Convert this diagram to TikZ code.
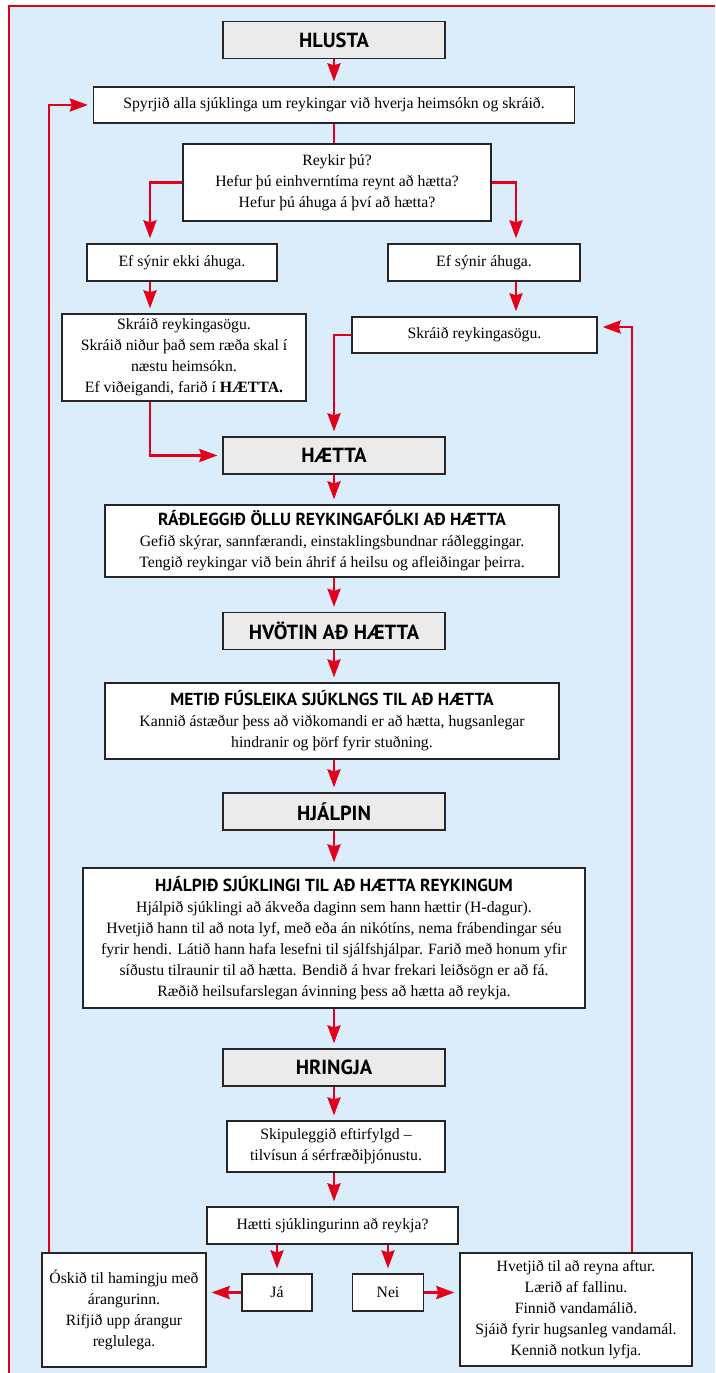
\documentclass[tikz,border=0pt]{standalone}
\usepackage{fontspec}
\setmainfont{Liberation Serif}
\newfontfamily\headsans{PT Sans}
\usepackage{xcolor}
\definecolor{flowred}{RGB}{226,0,26}
\definecolor{paneblue}{RGB}{219,237,251}
\definecolor{headgray}{RGB}{235,235,235}
\newcommand{\boxtitle}[1]{{\headsans\bfseries\fontsize{17.5}{22}\selectfont #1}}
\usepackage{tikz}
\usetikzlibrary{positioning,arrows.meta,calc}

\begin{document}
\begin{tikzpicture}[x=1bp,y=-1bp,
      stage/.style={rectangle,draw=black!85,line width=1.3bp,fill=headgray,
        minimum width=222bp,minimum height=37bp,inner sep=0pt,
        font=\headsans\bfseries\fontsize{20.5}{24}\selectfont},
      box/.style={rectangle,draw=black!85,line width=1.3bp,fill=white,align=center,
        inner sep=0pt,font=\fontsize{15.8}{21}\selectfont},
      flow/.style={-{Stealth[length=18bp,width=13bp,inset=2bp]},line width=2.5bp,
        flowred,shorten >=5bp},
      link/.style={line width=2.5bp,flowred}]
    \useasboundingbox (0,0) rectangle (715,1373);
    % panel with the red frame (runs off the page right and below)
    \fill[white] (0,0) rectangle (715,1373);
    \fill[paneblue] (9,6) rectangle (715,1373);
    \draw[link,line width=2.6bp] (715,6) -- (9,6) -- (9,1373);
    % columns used by the side connectors
    \coordinate (loopL) at (49,0);
    \coordinate (colL) at (150,0);
    \coordinate (colR) at (516,0);
    \coordinate (loopR) at (632,0);
    % first stage
    \node[stage] (hlusta) at (334,40) {HLUSTA};
    \node[box,minimum width=481bp,minimum height=36bp] (spyr) at (334,105)
      {Spyrjið alla sjúklinga um reykingar við hverja heimsókn og skráið.};
    \node[box,minimum width=308bp,minimum height=77bp] (reyk) at (337,182.5)
      {Reykir þú?\\Hefur þú einhverntíma reynt að hætta?\\Hefur þú áhuga á því að hætta?};
    \node[box,minimum width=190bp,minimum height=37bp] (ekki) at (182,262.5)
      {Ef sýnir ekki áhuga.};
    \node[box,minimum width=192bp,minimum height=37bp] (ahuga) at (484,262.5)
      {Ef sýnir áhuga.};
    \node[box,minimum width=244bp,minimum height=87bp] (skrL) at (184,357.5)
      {Skráið reykingasögu.\\Skráið niður það sem ræða skal í\\næstu heimsókn.\\
       Ef viðeigandi, farið í \textbf{HÆTTA.}};
    \node[box,minimum width=245bp,minimum height=36bp] (skrR) at (474.5,335)
      {Skráið reykingasögu.};
    % second to fourth stage
    \node[stage] (haetta) at (334,455.5) {HÆTTA};
    \node[box,minimum width=454bp,minimum height=72bp] (radl) at (332,541)
      {\boxtitle{RÁÐLEGGIÐ ÖLLU REYKINGAFÓLKI AÐ HÆTTA}\\
       Gefið skýrar, sannfærandi, einstaklingsbundnar ráðleggingar.\\
       Tengið reykingar við bein áhrif á heilsu og afleiðingar þeirra.};
    \node[stage] (hvotin) at (334,631) {HVÖTIN AÐ HÆTTA};
    \node[box,minimum width=454bp,minimum height=76bp] (metid) at (332,721)
      {\boxtitle{METIÐ FÚSLEIKA SJÚKLNGS TIL AÐ HÆTTA}\\
       Kannið ástæður þess að viðkomandi er að hætta, hugsanlegar\\
       hindranir og þörf fyrir stuðning.};
    \node[stage] (hjalpin) at (334,811.5) {HJÁLPIN};
    \node[box,minimum width=502bp,minimum height=140bp] (hjalpid) at (334,938)
      {\boxtitle{HJÁLPIÐ SJÚKLINGI TIL AÐ HÆTTA REYKINGUM}\\
       Hjálpið sjúklingi að ákveða daginn sem hann hættir (H-dagur).\\
       Hvetjið hann til að nota lyf, með eða án nikótíns, nema frábendingar séu\\
       fyrir hendi. Látið hann hafa lesefni til sjálfshjálpar. Farið með honum yfir\\
       síðustu tilraunir til að hætta. Bendið á hvar frekari leiðsögn er að fá.\\
       Ræðið heilsufarslegan ávinning þess að hætta að reykja.};
    % last stage
    \node[stage] (hringja) at (334,1067.5) {HRINGJA};
    \node[box,minimum width=218bp,minimum height=51bp] (skip) at (336,1146.5)
      {Skipuleggið eftirfylgd –\\tilvísun á sérfræðiþjónustu.};
    \node[box,minimum width=251bp,minimum height=37bp] (haetti) at (332.5,1225.5)
      {Hætti sjúklingurinn að reykja?};
    \node[box,minimum width=70bp,minimum height=37bp] (ja) at (277,1292.5) {Já};
    \node[box,minimum width=71bp,minimum height=37bp] (nei) at (388,1292.5) {Nei};
    \node[box,minimum width=164bp,minimum height=114bp] (oskid) at (124,1310)
      {Óskið til hamingju með\\árangurinn.\\Rifjið upp árangur\\reglulega.};
    \node[box,minimum width=232bp,minimum height=113bp] (hvetjid) at (576,1309.5)
      {Hvetjið til að reyna aftur.\\Lærið af fallinu.\\Finnið vandamálið.\\
       Sjáið fyrir hugsanleg vandamál.\\Kennið notkun lyfja.};
    % connectors
    \draw[flow] (hlusta) -- (hlusta |- spyr.north);
    \draw[link] (spyr.south -| hlusta) -- (reyk.north -| hlusta);
    \draw[flow] (reyk.west) -| (ekki.north -| colL);
    \draw[flow] (reyk.east) -| (ahuga.north -| colR);
    \draw[flow] (ekki.south -| colL) -- (skrL.north -| colL);
    \draw[flow] (ahuga.south -| colR) -- (skrR.north -| colR);
    \draw[flow] (skrL.south -| colL) |- (haetta.west);
    \draw[flow] (skrR.west) -| (haetta.north);
    \draw[flow] (haetta) -- (radl.north -| haetta);
    \draw[flow] (radl.south -| haetta) -- (hvotin);
    \draw[flow] (hvotin) -- (metid.north -| hvotin);
    \draw[flow] (metid.south -| hvotin) -- (hjalpin);
    \draw[flow] (hjalpin) -- (hjalpid.north -| hjalpin);
    \draw[flow] (hjalpid.south -| hjalpin) -- (hringja);
    \draw[flow] (hringja) -- (skip.north -| hringja);
    \draw[flow] (skip.south -| hringja) -- (haetti.north -| hringja);
    \draw[flow] (haetti.south -| ja) -- (ja);
    \draw[flow] (haetti.south -| nei) -- (nei);
    \draw[flow] (ja.west) -- (ja.west -| oskid.east);
    \draw[flow] (nei.east) -- (nei.east -| hvetjid.west);
    % loops back up
    \draw[flow] (oskid.north -| loopL) |- (spyr.west);
    \draw[flow] (hvetjid.north -| loopR) |- ([yshift=8bp]skrR.east);
\end{tikzpicture}
\end{document}
